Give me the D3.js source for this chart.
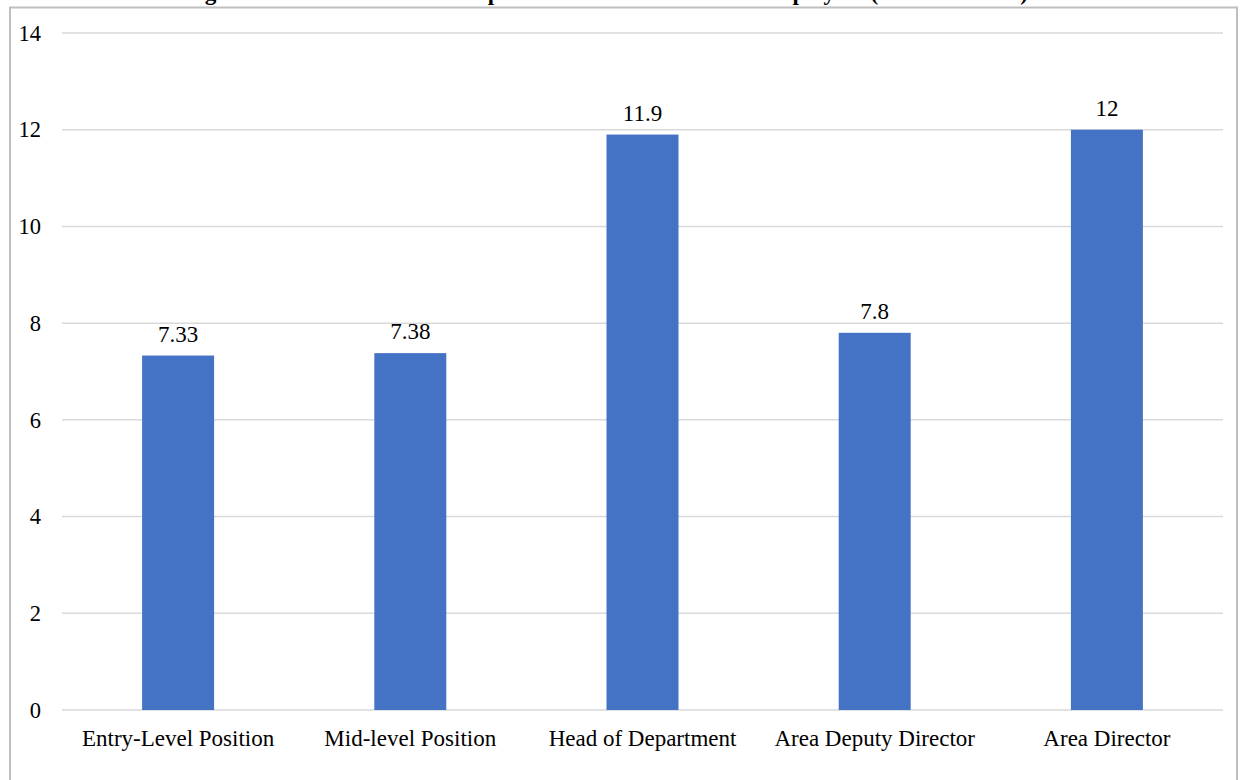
<!DOCTYPE html>
<html>
<head>
<meta charset="utf-8">
<script src="https://cdn.jsdelivr.net/npm/d3@7"></script>
<style>
  html, body { margin: 0; padding: 0; background: #fff; }
  svg { display: block; }
</style>
</head>
<body>
<svg id="chart" width="1241" height="780"></svg>
<script>
const categories = ["Entry-Level Position", "Mid-level Position", "Head of Department", "Area Deputy Director", "Area Director"];
const values = [7.33, 7.38, 11.9, 7.8, 12];
const valueLabels = ["7.33", "7.38", "11.9", "7.8", "12"];
const yTicks = [0, 2, 4, 6, 8, 10, 12, 14];
const titleText = "Figure 6: Mean Total Work Experience Based on Level of Employees (Mean in Years)";

const svg = d3.select("#chart");
const font = "'Liberation Serif', 'Times New Roman', serif";

// Title (cropped at the top of the picture, as in the reference)
svg.append("text")
  .attr("x", 606).attr("y", 0)
  .attr("text-anchor", "middle")
  .attr("font-family", font).attr("font-weight", "bold").attr("font-size", 23.2)
  .attr("fill", "#000")
  .text(titleText);

// Chart border
svg.append("rect")
  .attr("x", 10).attr("y", 7.5).attr("width", 1227).attr("height", 790)
  .attr("fill", "#fff").attr("stroke", "#bfbfbf").attr("stroke-width", 2);

const x = d3.scaleBand().domain(categories).range([62, 1223]).paddingInner(0.69).paddingOuter(0.345);
const y = d3.scaleLinear().domain([0, 14]).range([710, 33]);

// Gridlines
svg.append("g").selectAll("line").data(yTicks).join("line")
  .attr("x1", 62).attr("x2", 1223)
  .attr("y1", d => y(d)).attr("y2", d => y(d))
  .attr("stroke", "#d9d9d9").attr("stroke-width", 1.5);

// Y axis labels
const yAxis = d3.axisLeft(y).tickValues(yTicks).tickSize(0).tickPadding(0).tickFormat(d3.format("d"));
const gy = svg.append("g").attr("transform", "translate(41,0)").call(yAxis);
gy.select(".domain").remove();
gy.selectAll("text").attr("font-family", font).attr("font-size", 22.5).attr("fill", "#000").attr("dy", "0.32em");

// Bars
svg.append("g").selectAll("rect").data(values).join("rect")
  .attr("x", (d, i) => x(categories[i]))
  .attr("width", x.bandwidth())
  .attr("y", d => y(d))
  .attr("height", d => y(0) - y(d))
  .attr("fill", "#4472c4");

// Value labels
svg.append("g").selectAll("text").data(values).join("text")
  .attr("x", (d, i) => x(categories[i]) + x.bandwidth() / 2)
  .attr("y", d => y(d) - 14)
  .attr("text-anchor", "middle")
  .attr("font-family", font).attr("font-size", 23).attr("fill", "#000")
  .text((d, i) => valueLabels[i]);

// X axis labels
const xAxis = d3.axisBottom(x).tickSize(0).tickPadding(0);
const gx = svg.append("g").attr("transform", "translate(0,710)").call(xAxis);
gx.select(".domain").remove();
gx.selectAll("text").attr("font-family", font).attr("font-size", 23).attr("fill", "#000")
  .attr("y", 36).attr("dy", 0);
</script>
</body>
</html>
